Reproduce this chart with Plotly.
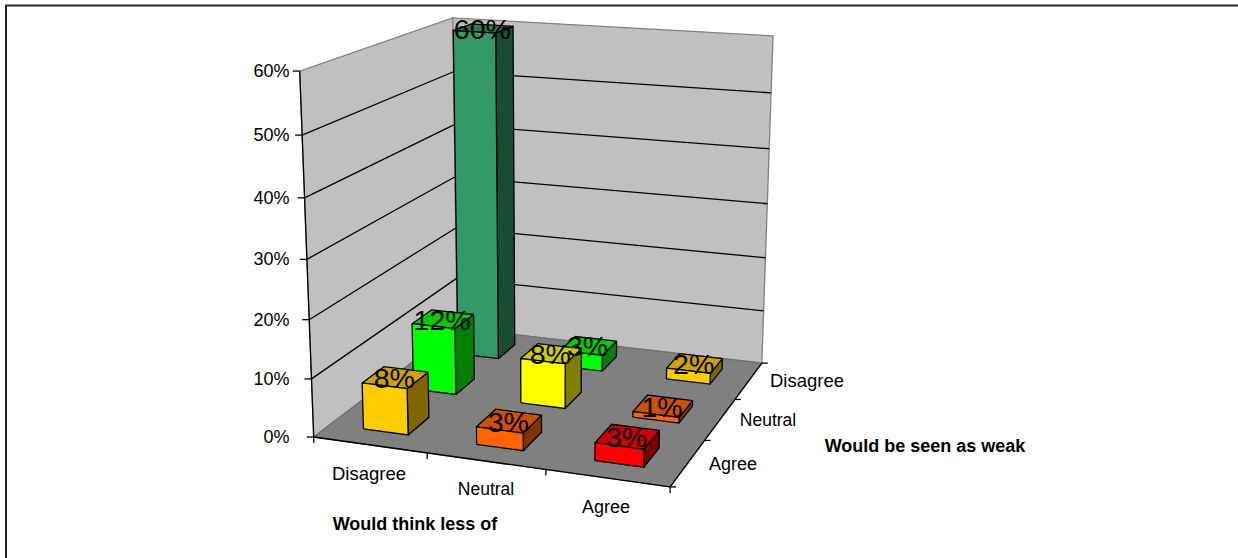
import numpy as np
import plotly.graph_objects as go

# ---------- data ----------
think_less_categories = ["Disagree", "Neutral", "Agree"]
seen_weak_categories = ["Agree", "Neutral", "Disagree"]  # front to back
percent_ticks = [0, 10, 20, 30, 40, 50, 60]
weak_agree_values = [8, 3, 3]
weak_neutral_values = [12, 8, 1]
weak_disagree_values = [60, 3, 2]
x_axis_title = "Would think less of"
y_axis_title = "Would be seen as weak"

# ---------- styles ----------
weak_agree_colors = ["#FFCC00", "#FF6600", "#FF0000"]
weak_neutral_colors = ["#00FF00", "#FFFF00", "#FF6600"]
weak_disagree_colors = ["#339966", "#00FF00", "#FFCC00"]
FONT = "Liberation Sans, Arial, sans-serif"
BAR_X0, BAR_W = 0.30, 0.40
BAR_Y0, BAR_D = 0.30, 0.42
LW = 1.3
CATEGORY_SIZES = {"Disagree": 18.5, "Neutral": 17.5, "Agree": 18}

# ---------- camera: fit a projective map from the axis box corners ----------
box_corners = [(0, 0, 0), (3, 0, 0), (3, 3, 0), (0, 3, 0), (0, 0, 60), (0, 3, 60), (3, 3, 60)]
box_pixels = [(314, 437), (670, 487), (762, 363), (457, 328), (299.5, 71), (453, 18), (773, 36)]
rows = []
for (a, b, c), (u, v) in zip(box_corners, box_pixels):
    c = c / 20
    rows.append([a, b, c, 1, 0, 0, 0, 0, -u * a, -u * b, -u * c, -u])
    rows.append([0, 0, 0, 0, a, b, c, 1, -v * a, -v * b, -v * c, -v])
P = np.linalg.svd(np.array(rows, float))[2][-1].reshape(3, 4)


def project(a, b, c):
    h = P @ np.array([a, b, c / 20, 1.0])
    return float(h[0] / h[2]), float(h[1] / h[2])


def shade(color, f):
    r, g, b = (int(color[i:i + 2], 16) for i in (1, 3, 5))
    return f"rgb({int(r * f)},{int(g * f)},{int(b * f)})"


fig = go.Figure()


def poly(points, fill, line="#000000", width=LW):
    xs, ys = zip(*(points + points[:1]))
    fig.add_trace(go.Scatter(x=xs, y=ys, mode="lines", fill="toself", fillcolor=fill,
                             line=dict(color=line, width=width), hoverinfo="skip", showlegend=False))


def seg(p, q, color="#000000", width=LW):
    fig.add_trace(go.Scatter(x=[p[0], q[0]], y=[p[1], q[1]], mode="lines",
                             line=dict(color=color, width=width), hoverinfo="skip", showlegend=False))


def label(x, y, text, size=18, pos="middle center", bold=False):
    fig.add_trace(go.Scatter(x=[x], y=[y + 1], mode="text", text=[f"<b>{text}</b>" if bold else text],
                             textposition=pos, textfont=dict(family=FONT, size=size, color="#000000"),
                             hoverinfo="skip", showlegend=False))


top = max(percent_ticks)
n = len(think_less_categories)
poly([project(0, 0, 0), project(0, n, 0), project(0, n, top), project(0, 0, top)], "#C0C0C0", "#808080")
poly([project(0, n, 0), project(n, n, 0), project(n, n, top), project(0, n, top)], "#C0C0C0", "#808080")
poly([project(0, 0, 0), project(n, 0, 0), project(n, n, 0), project(0, n, 0)], "#808080", "#707070")
for t in percent_ticks[1:-1]:
    seg(project(0, 0, t), project(0, n, t))
    seg(project(0, n, t), project(n, n, t))

# axes and tick marks
seg(project(0, 0, 0), project(0, 0, top))
seg(project(0, 0, 0), project(n, 0, 0))
seg(project(n, 0, 0), project(n, n, 0))
for t in percent_ticks:
    u, v = project(0, 0, t)
    seg((u - 7, v), (u, v))
    label(289.5, v + 0.5, f"{t}%", pos="middle left")
for i in range(n + 1):
    u, v = project(i, 0, 0)
    seg((u, v), (u, v + 6))
    u, v = project(n, i, 0)
    seg((u, v), (u + 6, v))

# bars, back to front
rows_values = [(2, weak_disagree_values, weak_disagree_colors),
               (1, weak_neutral_values, weak_neutral_colors),
               (0, weak_agree_values, weak_agree_colors)]
labels = []
for j, vals, cols in rows_values:
    for i, (val, col) in enumerate(zip(vals, cols)):
        x0, x1 = i + BAR_X0, i + BAR_X0 + BAR_W
        y0, y1 = j + BAR_Y0, j + BAR_Y0 + BAR_D
        poly([project(x1, y0, 0), project(x1, y1, 0), project(x1, y1, val), project(x1, y0, val)], shade(col, 0.5))
        poly([project(x0, y0, val), project(x1, y0, val), project(x1, y1, val), project(x0, y1, val)], shade(col, 0.8))
        poly([project(x0, y0, 0), project(x1, y0, 0), project(x1, y0, val), project(x0, y0, val)], col)
        labels.append((project((x0 + x1) / 2, (y0 + y1) / 2, val), f"{val}%"))
for (u, v), text in labels:
    label(u - 1, v + 2.5, text, size=28.5)

# category labels and titles
for (u, v), text in zip([(369, 474), (486, 490), (606, 507)], think_less_categories):
    label(u, v, text, size=CATEGORY_SIZES[text])
for (u, v), text in zip([(733, 464), (768, 421), (807, 381)], seen_weak_categories):
    label(u, v, text, size=CATEGORY_SIZES[text])
label(415, 524, x_axis_title, bold=True)
label(925, 446, y_axis_title, bold=True)

fig.update_layout(
    width=1238, height=558, margin=dict(l=0, r=0, t=0, b=0),
    paper_bgcolor="white", plot_bgcolor="white", showlegend=False,
    xaxis=dict(range=[0, 1238], visible=False, fixedrange=True),
    yaxis=dict(range=[558, 0], visible=False, fixedrange=True),
    shapes=[dict(type="line", xref="x", yref="y", x0=5, x1=1238, y0=5.5, y1=5.5, line=dict(color="#222222", width=2)),
            dict(type="line", xref="x", yref="y", x0=6, x1=6, y0=5.5, y1=558, line=dict(color="#222222", width=2))],
)
fig.write_html("out.html", config=dict(displayModeBar=False),
               post_script="document.body.style.margin='0';")
